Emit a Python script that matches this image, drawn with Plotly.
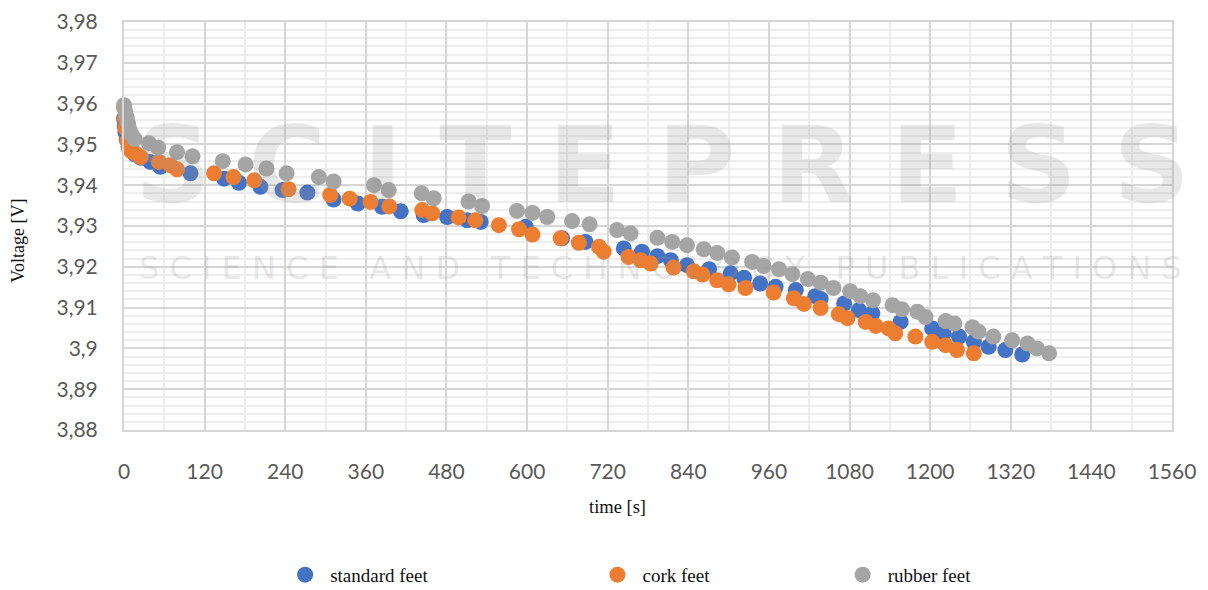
import plotly.graph_objects as go

# ---- data (time [s], voltage [V]) ----
std_t = [0, 1, 2, 4, 7, 11, 17, 25, 39, 54, 99, 149, 171, 203, 236, 273, 312, 348, 384, 412, 446,
         481, 511, 531, 598, 652, 687, 744, 771, 794, 814, 838, 871, 903, 923, 947, 970, 1000, 1029,
         1037, 1072, 1094, 1114, 1156, 1203, 1220, 1243, 1265, 1287, 1312, 1337]
std_v = [3.9563, 3.9545, 3.9530, 3.9512, 3.9495, 3.9485, 3.9475, 3.9467, 3.9457, 3.9445, 3.9429,
         3.9416, 3.9406, 3.9396, 3.9388, 3.9382, 3.9365, 3.9355, 3.9347, 3.9336, 3.9327, 3.9322,
         3.9314, 3.9310, 3.9298, 3.9270, 3.9261, 3.9245, 3.9237, 3.9226, 3.9216, 3.9204, 3.9194,
         3.9184, 3.9173, 3.9159, 3.9151, 3.9143, 3.9128, 3.9121, 3.9110, 3.9094, 3.9086, 3.9065,
         3.9049, 3.9037, 3.9029, 3.9016, 3.9004, 3.8996, 3.8985]

cork_t = [0, 1, 2, 5, 7, 11, 17, 25, 52, 69, 79, 134, 163, 194, 245, 307, 336, 367, 395, 444, 459,
          498, 523, 558, 588, 608, 650, 677, 707, 714, 751, 769, 784, 818, 848, 861, 883, 900, 925,
          967, 997, 1012, 1037, 1064, 1077, 1104, 1119, 1138, 1148, 1178, 1203, 1223, 1240, 1265]
cork_v = [3.9591, 3.9564, 3.9540, 3.9510, 3.9494, 3.9483, 3.9478, 3.9469, 3.9457, 3.9449, 3.9439,
          3.9429, 3.9420, 3.9412, 3.9390, 3.9376, 3.9367, 3.9359, 3.9348, 3.9339, 3.9331, 3.9321,
          3.9314, 3.9302, 3.9292, 3.9279, 3.9270, 3.9259, 3.9249, 3.9237, 3.9224, 3.9216, 3.9208,
          3.9198, 3.9189, 3.9181, 3.9167, 3.9157, 3.9148, 3.9137, 3.9123, 3.9109, 3.9099, 3.9084,
          3.9074, 3.9065, 3.9055, 3.9049, 3.9037, 3.9029, 3.9016, 3.9008, 3.8996, 3.8988]

rub_t = [0, 2, 4, 6, 8, 11, 16, 37, 51, 79, 102, 147, 181, 212, 242, 290, 312, 372, 394, 443, 461,
         513, 533, 585, 608, 630, 667, 693, 734, 754, 794, 816, 838, 863, 883, 905, 935, 952, 975,
         995, 1018, 1037, 1056, 1081, 1096, 1115, 1144, 1158, 1181, 1193, 1223, 1236, 1263, 1272,
         1294, 1322, 1345, 1359, 1377]
rub_v = [3.9596, 3.9581, 3.9567, 3.9552, 3.9537, 3.9525, 3.9513, 3.9503, 3.9492, 3.9481, 3.9471,
         3.9459, 3.9451, 3.9441, 3.9429, 3.9420, 3.9409, 3.9400, 3.9388, 3.9380, 3.9368, 3.9360,
         3.9349, 3.9337, 3.9332, 3.9322, 3.9312, 3.9304, 3.9290, 3.9282, 3.9271, 3.9261, 3.9253,
         3.9243, 3.9234, 3.9223, 3.9212, 3.9202, 3.9194, 3.9182, 3.9170, 3.9161, 3.9148, 3.9140,
         3.9128, 3.9118, 3.9106, 3.9096, 3.9090, 3.9077, 3.9067, 3.9061, 3.9052, 3.9041, 3.9029,
         3.9020, 3.9012, 3.9000, 3.8988]

series_names = ["standard feet", "cork feet", "rubber feet"]
series_colors = ["#4472C4", "#ED7D31", "#A5A5A5"]

x_ticks = list(range(0, 1561, 120))
y_ticks = [3.88, 3.89, 3.90, 3.91, 3.92, 3.93, 3.94, 3.95, 3.96, 3.97, 3.98]
y_ticklabels = ["3,88", "3,89", "3,9", "3,91", "3,92", "3,93", "3,94", "3,95", "3,96", "3,97", "3,98"]

fig = go.Figure()
data = [(std_t, std_v), (cork_t, cork_v), (rub_t, rub_v)]
legends = ["legend", "legend2", "legend3"]
for (t, v), name, col, lg in zip(data, series_names, series_colors, legends):
    fig.add_trace(go.Scatter(
        x=t, y=v, mode="markers", name=name, legend=lg, cliponaxis=False,
        marker=dict(color=col, size=16, line=dict(width=0)),
    ))

grid_major = "#d6d6d6"
grid_minor = "#ededed"
tick_font = dict(family="Lato, Open Sans, sans-serif", size=21, color="#595959")

fig.update_xaxes(
    range=[0, 1560], tickvals=x_ticks, ticktext=[str(v) for v in x_ticks],
    showgrid=True, gridcolor=grid_major, gridwidth=2,
    minor=dict(dtick=60, tick0=0, showgrid=True, gridcolor=grid_minor, gridwidth=1.5),
    showline=True, linecolor=grid_major, linewidth=2, mirror=True,
    zeroline=False, ticks="", ticklabelstandoff=22, tickfont=tick_font,
)
fig.update_yaxes(
    range=[3.88, 3.98], tickvals=y_ticks, ticktext=y_ticklabels,
    showgrid=True, gridcolor=grid_major, gridwidth=2,
    minor=dict(dtick=0.002, tick0=3.88, showgrid=True, gridcolor=grid_minor, gridwidth=1.5),
    showline=True, linecolor=grid_major, linewidth=2, mirror=True,
    zeroline=False, ticks="", ticklabelstandoff=20, tickfont=tick_font,
)

legend_font = dict(family="Liberation Serif, Times New Roman, serif", size=19, color="#111111")
legend_common = dict(orientation="h", yanchor="middle", y=-0.355, xanchor="left",
                     bgcolor="rgba(0,0,0,0)", font=legend_font, itemwidth=40)

serif = "Liberation Serif, Times New Roman, serif"
wm_color = "rgba(150,150,150,0.22)"
fig.update_layout(
    width=1208, height=590,
    margin=dict(l=123.5, r=36.3, t=21.7, b=160, autoexpand=False),
    paper_bgcolor="white", plot_bgcolor="white",
    showlegend=True,
    legend=dict(x=0.149, **legend_common),
    legend2=dict(x=0.447, **legend_common),
    legend3=dict(x=0.681, **legend_common),
    annotations=[
        dict(text="Voltage [V]", xref="paper", yref="paper", x=-0.1007, y=0.465,
             textangle=-90, showarrow=False, font=dict(family=serif, size=18, color="#111111"),
             xanchor="center", yanchor="middle"),
        dict(text="time [s]", xref="paper", yref="paper", x=0.4708, y=-0.1886,
             showarrow=False, font=dict(family=serif, size=18.5, color="#111111"),
             xanchor="center", yanchor="middle"),
        # faint publisher watermark present in the reference image (kept inside the plot area)
        dict(text="S C I T E P R E S S", xref="paper", yref="paper", x=0.5137, y=0.649,
             showarrow=False,
             font=dict(family="DejaVu Sans", size=106, weight=700, color=wm_color),
             xanchor="center", yanchor="middle"),
        dict(text="S C I E N C E   A N D   T E C H N O L O G Y   P U B L I C A T I O N S",
             xref="paper", yref="paper", x=0.512, y=0.3968, showarrow=False,
             font=dict(family="DejaVu Sans", size=32, color=wm_color),
             xanchor="center", yanchor="middle"),
    ],
)

fig.write_html("out.html")
